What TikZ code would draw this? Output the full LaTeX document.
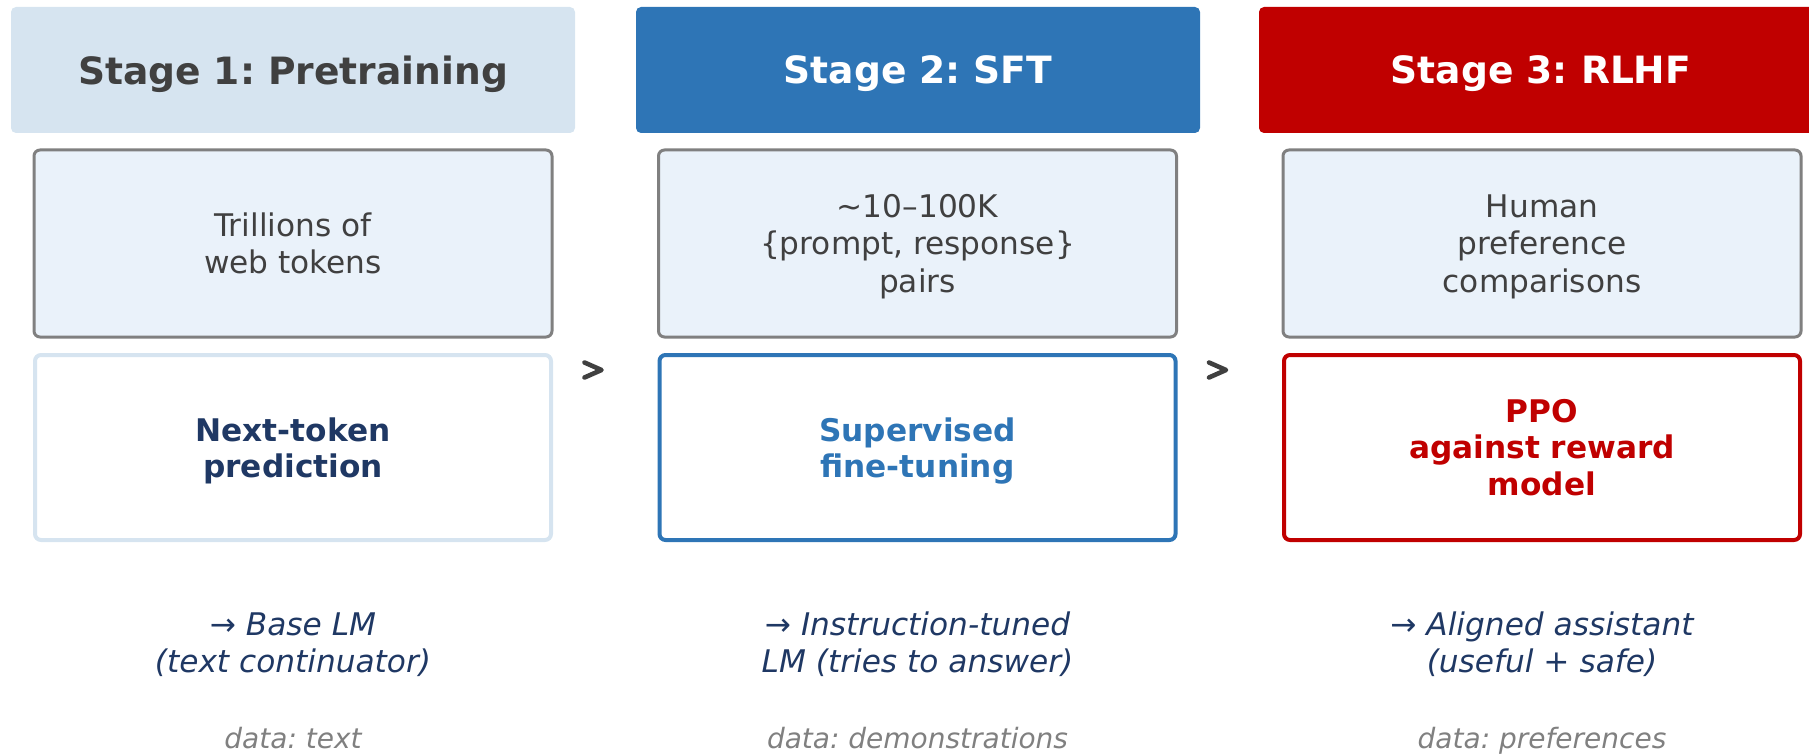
\documentclass[tikz,border=0pt]{standalone}
\usepackage{fontspec}
\setmainfont{DejaVu Sans}[BoldFont={DejaVu Sans Bold},ItalicFont={DejaVu Sans Oblique}]
\usepackage{tikz}
\usetikzlibrary{calc}
\frenchspacing

\definecolor{paleblue}{HTML}{D6E4F0}
\definecolor{sftblue}{HTML}{2E75B6}
\definecolor{rlhfred}{HTML}{C00000}
\definecolor{databg}{HTML}{EAF2FA}
\definecolor{edgegray}{HTML}{808080}
\definecolor{navy}{HTML}{1F3864}
\definecolor{ink}{HTML}{404040}

% extra room above the first line, so the text sits a little lower
\newcommand{\toppad}[1]{\rule{0pt}{#1}}

\begin{document}
\begin{tikzpicture}[x=0.5pt, y=-0.5pt,
    header/.style={rectangle, rounded corners=2.5pt, inner sep=0pt,
      minimum width=282pt, minimum height=63pt, text depth=0pt,
      font=\fontsize{18.8}{22.5}\selectfont\bfseries},
    databox/.style={rectangle, rounded corners=3pt, draw=edgegray, line width=1.5pt,
      fill=databg, text=ink, inner sep=0pt, align=center,
      minimum width=259pt, minimum height=93.5pt,
      font=\fontsize{15.6}{18.7}\selectfont},
    method/.style={rectangle, rounded corners=3pt, fill=white, line width=2pt,
      inner sep=0pt, align=center, minimum width=258pt, minimum height=92.5pt,
      font=\fontsize{15.6}{18.2}\selectfont\bfseries},
    result/.style={text=navy, align=center, inner sep=0pt,
      font=\fontsize{15.6}{18.5}\selectfont\itshape},
    datalabel/.style={text=edgegray, inner sep=0pt, anchor=base,
      font=\fontsize{14}{17}\selectfont\itshape},
    chev/.style={ink, line width=2.3pt, line cap=round, line join=round}]
  \clip (0,0) rectangle (1809,754);

  % stage headers
  \node (h1) [header, fill=paleblue, text=ink] at (293,70) {Stage 1: Pretraining};
  \node (h2) [header, fill=sftblue, text=white] at (918,70) {Stage 2: SFT};
  \node (h3) [header, fill=rlhfred, text=white] at (1541,70) {Stage 3: RLHF};

  % data
  \node (d1) [databox] at (293,243.5) {Trillions of\\web tokens};
  \node (d2) [databox] at (917.5,243.5) {\toppad{14.4pt}\textasciitilde10–100K\\\{prompt, response\}\\pairs};
  \node (d3) [databox] at (1542,243.5) {\toppad{14.4pt}Human\\preference\\comparisons};

  % training method
  \node (m1) [method, draw=paleblue, text=navy] at (293,447.5) {\toppad{15.4pt}Next-token\\prediction};
  \node (m2) [method, draw=sftblue, text=sftblue] at (917.5,447.5) {\toppad{15.4pt}Supervised\\fine-tuning};
  \node (m3) [method, draw=rlhfred, text=rlhfred] at (1542,447.5) {PPO\\against reward\\model};

  % what comes out
  \node (o1) [result] at (293,644.5) {→ Base LM\\(text continuator)};
  \node (o2) [result] at (917.5,644.5) {→ Instruction-tuned\\LM (tries to answer)};
  \node (o3) [result] at (1542,644.5) {→ Aligned assistant\\(useful + safe)};

  \node (l1) [datalabel] at (293,748) {data: text};
  \node (l2) [datalabel] at (917.5,748) {data: demonstrations};
  \node (l3) [datalabel] at (1542,748) {data: preferences};

  % chevrons between stages
  \draw [chev] (584.5,362.5) -- (601.5,370) -- (584.5,377.5);
  \draw [chev] (1209,362.5) -- (1226,370) -- (1209,377.5);
\end{tikzpicture}
\end{document}
